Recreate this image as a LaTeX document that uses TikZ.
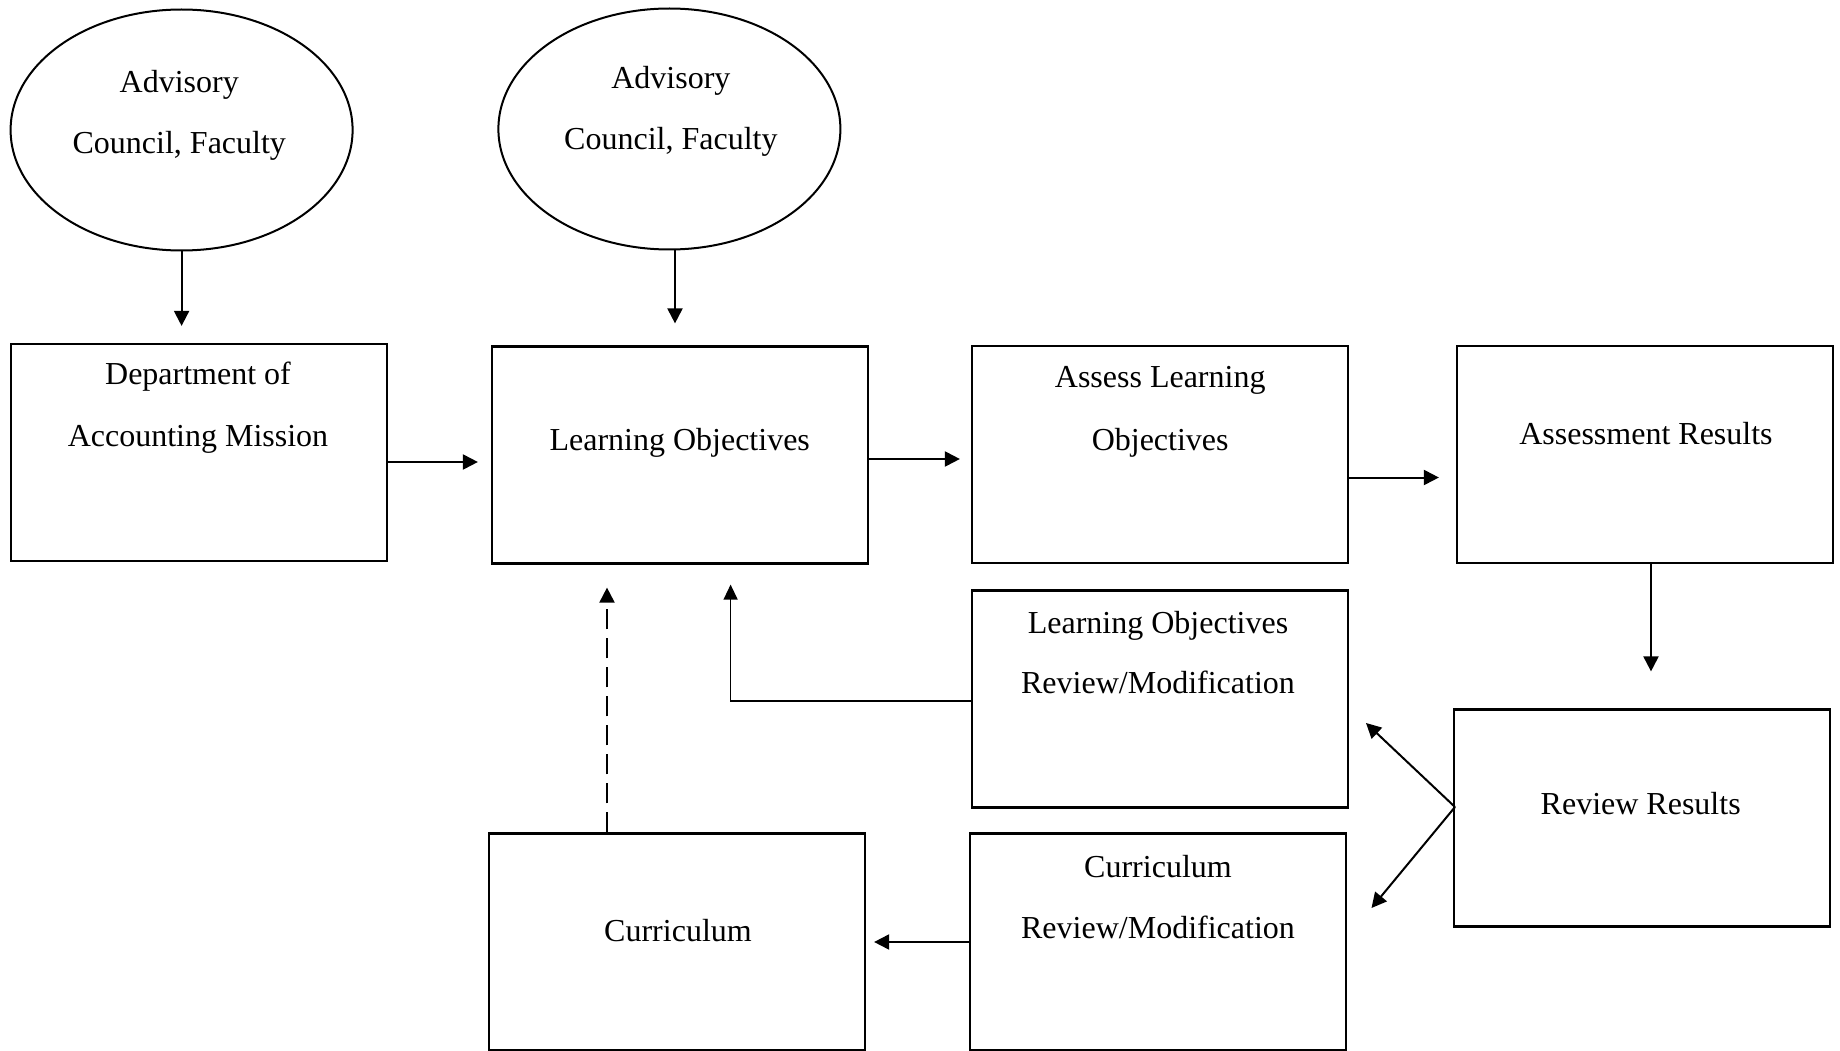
\documentclass[tikz,border=0pt]{standalone}
\usepackage{fontspec}
\setmainfont{Liberation Serif}
\usetikzlibrary{arrows.meta,shapes.geometric}
\begin{document}
\begin{tikzpicture}[x=1pt,y=-1pt,
 box/.style={draw,line width=2.2pt,minimum width=376pt,minimum height=217pt,inner sep=0pt},
 oval/.style={draw,ellipse,line width=2pt,minimum width=342pt,minimum height=241pt,inner sep=0pt},
 txt/.style={anchor=base,inner sep=0pt,font=\fontsize{32}{38}\selectfont},
 arr/.style={line width=2pt,-{Triangle[length=15pt,width=15pt]}},
 thinarr/.style={line width=1.3pt,-{Triangle[length=15pt,width=14pt]}}]
\useasboundingbox[fill=white] (0,0) rectangle (1840,1051);

% ellipses
\node[oval] (e1) at (181.6,130) {};
\node[oval] (e2) at (669.4,129) {};
\node[txt] (e1a) at (179.3,93) {Advisory};
\node[txt] (e1b) at (179.3,154) {Council, Faculty};
\node[txt] (e2a) at (670.9,89) {Advisory};
\node[txt] (e2b) at (670.9,150) {Council, Faculty};

% boxes
\node[box] (dept) at (198.6,452.5) {};
\node[box] (lo) at (680,455) {};
\node[box] (assess) at (1159.7,454.5) {};
\node[box] (ar) at (1644.7,454.5) {};
\node[box] (lor) at (1159.7,699) {};
\node[box] (rr) at (1642,818) {};
\node[box] (curr) at (677,942) {};
\node[box] (cr) at (1158.2,942) {};

% texts
\node[txt] (deptA) at (198,384) {Department of};
\node[txt] (deptB) at (198,446) {Accounting Mission};
\node[txt] (loA) at (679.7,450) {Learning Objectives};
\node[txt] (asA) at (1160.2,387) {Assess Learning};
\node[txt] (asB) at (1160.2,450) {Objectives};
\node[txt] (arA) at (1646,444) {Assessment Results};
\node[txt] (lorA) at (1158,633) {Learning Objectives};
\node[txt] (lorB) at (1158,693) {Review/Modification};
\node[txt] (rrA) at (1640.7,814) {Review Results};
\node[txt] (currA) at (678,941) {Curriculum};
\node[txt] (crA) at (1158,877) {Curriculum};
\node[txt] (crB) at (1158,938) {Review/Modification};

% connectors
\draw[arr,shorten >=17pt] (e1.south) -- (e1.south |- dept.north);
\draw[arr,shorten >=22pt] ([xshift=5.6pt]e2.south) -- ([xshift=5.6pt]e2.south |- lo.north);
\draw[arr,shorten >=13pt] ([yshift=-9.5pt]dept.east) -- ([yshift=-9.5pt]dept.east -| lo.west);
\draw[arr,shorten >=10.7pt] ([yshift=-4pt]lo.east) -- ([yshift=-4pt]lo.east -| assess.west);
\draw[arr,shorten >=16.7pt] ([yshift=-23pt]assess.east) -- ([yshift=-23pt]assess.east -| ar.west);
\draw[arr,shorten >=37pt] ([xshift=6.3pt]ar.south) -- ([xshift=6.3pt]ar.south |- rr.north);
\coordinate (rrl) at (1455,807);
\coordinate (lortip) at (1366,723);
\coordinate (crtip) at (1371.5,908);
\draw[arr] (rrl) -- (lortip);
\draw[arr] (rrl) -- (crtip);
\draw[thinarr,shorten >=20pt] ([yshift=-2pt]lor.west) -| ([xshift=50.6pt]lo.south);
\draw[arr,dash pattern=on 20pt off 9pt,shorten >=23pt] ([xshift=-70pt]curr.north) -- ([xshift=-70pt]curr.north |- lo.south);
\draw[arr,shorten >=8pt] (cr.west) -- (cr.west -| curr.east);
\end{tikzpicture}
\end{document}
